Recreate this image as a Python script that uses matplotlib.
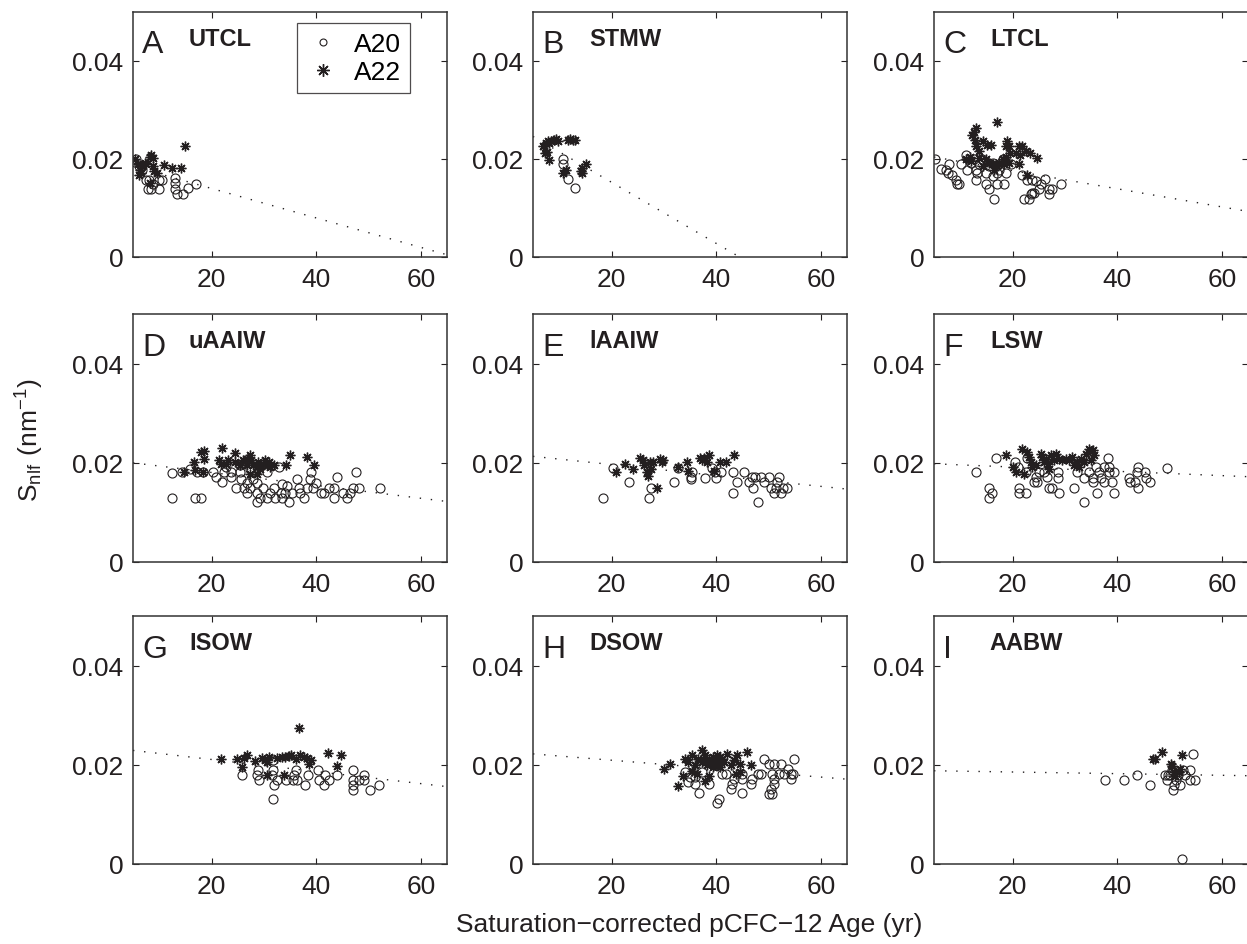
import numpy as np
import matplotlib
matplotlib.use("Agg")
import matplotlib.pyplot as plt
from matplotlib.lines import Line2D

plt.rcParams['font.family'] = ['Liberation Sans', 'DejaVu Sans']
plt.rcParams['mathtext.fontset'] = 'custom'
plt.rcParams['mathtext.rm'] = 'Liberation Sans'

INK = '#231f20'

# panel letters / water mass names
letters = ['A', 'B', 'C', 'D', 'E', 'F', 'G', 'H', 'I']
names = ['UTCL', 'STMW', 'LTCL', 'uAAIW', 'lAAIW', 'LSW', 'ISOW', 'DSOW', 'AABW']

# dotted regression line, value at age 5 and at age 65
fit_at5 = [0.0185, 0.0246, 0.0204, 0.0200, 0.0213, 0.0198, 0.0229, 0.0222, 0.0188]
fit_at65 = [0.00046, -0.0128, 0.0093, 0.0122, 0.0147, 0.0172, 0.0156, 0.0171, 0.0178]

# (age, Snlf) points, A20 = circles, A22 = asterisks
utcl_a20 = [(5.6, .020), (7.5, .0158), (7.8, .0139), (8.4, .0139), (8.1, .0158), (9.9, .0158),
            (10.6, .0158), (9.9, .0139), (13.1, .0162), (13.1, .0152), (13.1, .0139), (13.4, .0128),
            (14.5, .0129), (15.5, .014), (17.0, .015), (8.8, .0148), (6.2, .0185), (6.8, .0178)]
utcl_a22 = [(5.3, .020), (5.9, .0189), (6.3, .0178), (6.6, .0172), (7.2, .0192), (8.2, .0205),
            (8.5, .0209), (8.8, .0202), (8.9, .0185), (9.1, .0175), (9.5, .0172), (10.9, .0187),
            (12.5, .0182), (14.1, .0182), (15.0, .0226), (8.2, .0151), (6.1, .0168), (6.8, .0185),
            (7.5, .0189)]

stmw_a20 = [(10.8, .020), (10.8, .019), (11.6, .0159), (13.1, .014)]
stmw_a22 = [(6.9, .0226), (7.5, .0232), (7.8, .0236), (8.5, .0236), (9.1, .0238), (9.4, .024),
            (9.7, .0236), (8.1, .0232), (7.3, .0212), (7.6, .0215), (8.0, .0197), (12.0, .024),
            (12.6, .0239), (11.7, .0238), (13.0, .0238), (10.7, .0172), (11.3, .0178), (14.1, .0175),
            (14.4, .0182), (15.1, .0189), (14.3, .0172)]

ltcl_a20 = [(5.2, .020), (6.3, .018), (7.2, .0178), (7.9, .019), (7.6, .0171), (8.5, .0168),
            (9.2, .0158), (9.8, .0149), (9.3, .0149), (10.1, .019), (11.1, .0209), (11.4, .0178),
            (12.0, .0192), (13.0, .0158), (13.3, .0172), (13.6, .0189), (14.9, .0148), (15.5, .0138),
            (16.5, .0119), (16.2, .0165), (17.1, .0148), (17.4, .0189), (18.4, .0148), (18.7, .0172),
            (17.1, .0172), (15.5, .0185), (14.2, .0199), (18.1, .0199), (19.7, .019), (21.9, .0168),
            (22.8, .0158), (23.8, .0158), (24.4, .0155), (25.1, .0138), (25.4, .0148), (26.3, .0159),
            (27.0, .0138), (27.6, .0138), (27.0, .0128), (29.2, .015), (22.2, .0119), (23.2, .0119),
            (23.5, .0128), (23.8, .013), (24.1, .0131), (13.0, .0178), (12.7, .0199), (16.2, .0192),
            (17.4, .0178), (14.9, .0172)]
ltcl_a22 = [(13.0, .0263), (12.7, .0256), (12.3, .025), (12.8, .0239), (13.1, .0226), (13.6, .0216),
            (14.4, .0236), (15.2, .0229), (15.8, .0229), (17.0, .0275), (18.7, .0226), (19.0, .0236),
            (19.3, .0226), (19.6, .0212), (18.7, .0205), (18.1, .0199), (20.6, .0212), (21.2, .0226),
            (21.9, .0226), (21.5, .0209), (22.5, .0216), (23.4, .0213), (24.7, .0202), (21.2, .0189),
            (13.6, .0202), (14.9, .0199), (15.5, .0192), (16.2, .0189), (16.8, .019), (17.4, .0192),
            (18.4, .0189), (19.3, .0192), (11.1, .0199), (11.8, .0205), (12.1, .0195), (14.3, .0185),
            (17.1, .0185), (22.8, .0168), (16.5, .0178)]

uaaiw_a20 = [(12.4, .018), (12.4, .0129), (14.4, .0181), (15.8, .0188), (16.9, .0129), (17.9, .0129),
             (17.2, .0181), (18.3, .0182), (20.3, .0181), (20.8, .0171), (22.1, .0161), (22.3, .0181),
             (22.8, .0191), (23.8, .0171), (24.7, .015), (25.4, .0181), (25.7, .0168), (26.3, .015),
             (26.7, .014), (27.3, .015), (28.0, .0168), (28.6, .014), (28.6, .012), (29.3, .013),
             (29.9, .015), (30.6, .013), (31.2, .014), (31.9, .015), (32.2, .013), (33.2, .014),
             (33.5, .013), (34.1, .014), (34.8, .012), (34.5, .0154), (35.4, .014), (36.4, .0168),
             (36.7, .015), (37.0, .014), (37.7, .013), (38.3, .015), (38.8, .0168), (39.0, .0181),
             (39.3, .015), (39.9, .016), (40.9, .014), (41.5, .014), (42.5, .015), (43.5, .013),
             (43.9, .0171), (43.5, .015), (45.1, .014), (45.8, .013), (46.4, .014), (47.1, .015),
             (47.7, .0181), (48.1, .015), (52.2, .015), (32.9, .0191), (30.6, .0181), (27.3, .0188),
             (25.4, .0195), (23.8, .0181), (33.5, .0157), (26.7, .016), (28.6, .016)]
uaaiw_a22 = [(14.7, .0181), (16.6, .0201), (16.9, .0185), (17.9, .0222), (18.6, .0223), (18.6, .0208),
             (18.3, .0181), (22.1, .023), (21.8, .0198), (21.5, .0205), (22.8, .0198), (23.2, .0205),
             (24.5, .022), (24.5, .0201), (25.4, .0195), (26.0, .0205), (26.7, .0208), (27.3, .0215),
             (27.6, .0205), (28.0, .0195), (28.6, .0191), (28.9, .0201), (29.3, .0188), (29.9, .0198),
             (30.2, .0205), (30.6, .0195), (30.9, .0201), (31.2, .0191), (31.9, .0195), (27.3, .0178),
             (28.6, .0178), (35.0, .0216), (34.3, .0195), (38.3, .0211), (39.5, .0195), (26.7, .0195)]

laaiw_a20 = [(18.3, .013), (20.3, .019), (23.3, .0161), (27.2, .013), (27.6, .015), (31.9, .0161),
             (32.8, .019), (35.1, .0171), (35.3, .0181), (35.1, .0168), (37.8, .017), (39.2, .019),
             (39.7, .0181), (40.0, .017), (41.0, .0181), (43.2, .0181), (43.2, .014), (43.9, .0161),
             (45.4, .0181), (46.2, .0161), (46.8, .0171), (47.1, .015), (48.0, .012), (47.5, .0171),
             (48.5, .0171), (49.1, .0161), (50.1, .0171), (50.4, .015), (51.1, .014), (51.4, .015),
             (52.0, .0171), (52.4, .014), (52.7, .015), (53.6, .015), (51.7, .0161)]
laaiw_a22 = [(20.9, .0181), (22.5, .0198), (24.1, .0188), (25.4, .0209), (26.0, .0205), (26.3, .0195),
             (26.7, .0181), (27.0, .0174), (27.6, .0188), (27.9, .0201), (27.3, .0201), (28.6, .015),
             (29.3, .0208), (29.6, .0201), (29.9, .0205), (32.8, .0191), (34.4, .0201), (34.7, .0184),
             (37.0, .0209), (37.6, .0209), (38.3, .0201), (38.7, .0216), (39.5, .0184), (40.8, .0201),
             (41.8, .0201), (43.4, .0216), (37.3, .0205)]

lsw_a20 = [(13.1, .0181), (15.5, .015), (16.1, .014), (15.5, .013), (16.8, .0209), (20.5, .0201),
           (21.0, .0191), (21.3, .015), (21.3, .014), (22.5, .014), (22.5, .0181), (22.8, .0209),
           (24.1, .0161), (24.4, .0171), (24.7, .0161), (25.0, .0181), (26.6, .0171), (26.9, .015),
           (27.5, .015), (28.6, .0181), (28.6, .017), (28.9, .014), (31.8, .015), (32.4, .0181),
           (33.7, .012), (33.7, .017), (34.6, .0181), (35.3, .017), (35.3, .0161), (35.9, .0191),
           (36.2, .014), (36.9, .017), (37.5, .0161), (37.5, .0191), (38.2, .0209), (38.5, .0181),
           (39.1, .0161), (39.4, .0181), (39.4, .014), (38.5, .0191), (42.2, .017), (42.4, .0161),
           (43.4, .0161), (43.7, .0181), (43.9, .015), (44.0, .0191), (45.3, .0181), (45.6, .017),
           (46.2, .0161), (49.6, .019), (26.0, .0181), (36.5, .0181)]
lsw_a22 = [(18.7, .0215), (20.0, .0191), (20.6, .0181), (21.9, .0228), (22.2, .0178), (22.8, .0222),
           (23.2, .0211), (23.5, .0201), (23.8, .0191), (24.4, .0195), (25.4, .0218), (25.7, .0211),
           (26.1, .0201), (26.4, .0208), (26.7, .0198), (27.3, .0215), (28.0, .0205), (28.3, .0218),
           (28.9, .0208), (29.5, .0205), (30.2, .0208), (30.8, .0205), (31.4, .0211), (31.8, .0195),
           (32.4, .0201), (33.0, .0208), (33.7, .0201), (34.0, .0218), (34.6, .0228), (35.3, .0225),
           (35.6, .0215), (35.0, .0205), (27.0, .0188), (32.7, .0191)]

isow_a20 = [(25.9, .018), (28.8, .019), (28.7, .018), (29.0, .017), (31.8, .019), (31.9, .016),
            (31.8, .0131), (32.5, .017), (34.2, .017), (35.5, .017), (36.1, .019), (36.4, .017),
            (37.9, .016), (38.4, .018), (40.3, .019), (40.6, .017), (41.5, .016), (41.6, .018),
            (42.5, .017), (43.9, .018), (47.1, .019), (47.1, .017), (47.1, .016), (47.1, .015),
            (48.1, .017), (49.1, .018), (49.1, .017), (50.2, .015), (52.1, .016), (31.6, .018),
            (35.8, .018), (31.8, .021)]
isow_a22 = [(21.9, .0211), (24.8, .0212), (25.8, .0195), (26.2, .0213), (26.7, .0219), (28.4, .0208),
            (29.6, .0213), (30.3, .021), (30.6, .0205), (30.9, .0216), (30.6, .018), (33.5, .0215),
            (34.1, .0216), (34.8, .0218), (35.1, .0219), (36.7, .0275), (36.1, .0211), (36.9, .0219),
            (37.7, .0216), (38.3, .0213), (38.7, .0202), (39.0, .0209), (33.8, .018), (42.3, .0224),
            (44.0, .0198), (44.7, .0219), (32.6, .0213)]

dsow_a20 = [(34.1, .0185), (34.7, .0165), (35.0, .0175), (36.0, .0162), (36.8, .0143), (37.3, .0185),
            (38.6, .0162), (40.5, .0131), (40.2, .0123), (41.8, .0182), (42.8, .0152), (43.1, .0162),
            (43.4, .0172), (45.0, .0143), (45.0, .0172), (46.6, .0162), (46.9, .0172), (47.9, .0182),
            (48.5, .0182), (49.2, .0212), (50.1, .0202), (51.1, .0202), (52.4, .0202), (50.7, .0182),
            (51.1, .0172), (51.1, .0162), (50.4, .0152), (50.1, .0141), (50.7, .0141), (52.0, .0182),
            (53.0, .0182), (53.8, .0192), (54.3, .0182), (54.9, .0212), (54.3, .0172), (54.6, .0182),
            (45.0, .0182), (41.2, .0182), (36.0, .0175)]
dsow_a22 = [(30.1, .0191), (31.2, .0202), (32.8, .0158), (33.7, .0178), (34.1, .0212), (34.7, .0205),
            (35.3, .0219), (36.0, .020), (36.6, .0212), (37.3, .0229), (37.6, .0209), (37.9, .0219),
            (38.3, .020), (38.6, .0212), (38.9, .0205), (39.3, .0215), (39.6, .020), (39.9, .0209),
            (40.2, .0219), (40.5, .0202), (40.8, .0195), (41.2, .0212), (41.5, .0205), (42.1, .0222),
            (42.8, .020), (43.4, .0209), (44.0, .0219), (44.6, .0202), (45.9, .0226), (46.6, .020),
            (43.7, .0182), (37.9, .0168), (38.6, .0178), (35.3, .0188), (36.3, .0182), (44.6, .0185),
            (37.3, .0205), (39.3, .0195), (40.8, .0215)]

aabw_a20 = [(37.7, .017), (41.3, .017), (43.8, .018), (46.3, .016), (49.1, .018), (49.5, .017),
            (50.1, .018), (50.7, .015), (50.9, .016), (51.3, .017), (51.7, .018), (52.0, .016),
            (52.4, .0011), (52.6, .019), (52.9, .018), (53.9, .019), (53.9, .017), (54.5, .0221),
            (54.8, .017), (50.4, .019), (49.8, .018)]
aabw_a22 = [(46.8, .0211), (47.3, .0211), (48.6, .0226), (50.3, .0202), (50.5, .0198), (50.8, .0185),
            (51.8, .0185), (52.4, .0219), (52.1, .0192), (51.1, .0178)]

a20_sets = [utcl_a20, stmw_a20, ltcl_a20, uaaiw_a20, laaiw_a20, lsw_a20, isow_a20, dsow_a20, aabw_a20]
a22_sets = [utcl_a22, stmw_a22, ltcl_a22, uaaiw_a22, laaiw_a22, lsw_a22, isow_a22, dsow_a22, aabw_a22]

W, H = 1247, 945
fig = plt.figure(figsize=(W/100, H/100), dpi=100)

col_left = [133, 533, 934]
row_top = [13, 315, 617]
row_bot = [258, 563, 865]
ax_w = 314

asterisk = (8, 2, 0)
age_fit = np.array([5, 65])

for k in range(9):
    r, c = divmod(k, 3)
    ax = fig.add_axes([col_left[c]/W, 1 - row_bot[r]/H, ax_w/W, (row_bot[r]-row_top[r])/H])

    ax.plot(age_fit, [fit_at5[k], fit_at65[k]], ls=(0, (1, 7)), lw=1.0, color=INK)

    p20 = np.array(a20_sets[k]).T
    p22 = np.array(a22_sets[k]).T
    ax.plot(p20[0], p20[1], ls='none', marker='o', ms=6.5, mfc='none', mec=INK, mew=0.8)
    ax.plot(p22[0], p22[1], ls='none', marker=asterisk, ms=7, mec=INK, mew=1.0)

    ax.set_xlim(5, 65)
    ax.set_ylim(0, 0.05)
    ax.set_xticks([20, 40, 60])
    ax.set_yticks([0, 0.02, 0.04])
    ax.set_yticklabels(['0', '0.02', '0.04'])
    ax.tick_params(direction='in', top=True, right=True, length=4, width=0.8,
                   labelsize=19, colors=INK, pad=7)
    for s in ax.spines.values():
        s.set_linewidth(1.1)
        s.set_color('#333333')

    ax.text(0.03, 0.835, letters[k], transform=ax.transAxes, fontsize=23, color=INK)
    ax.text(0.178, 0.865, names[k], transform=ax.transAxes, fontsize=17,
            fontweight='bold', color=INK)

    if k == 0:
        handles = [Line2D([], [], ls='none', marker='o', ms=5, mfc='none', mec=INK, mew=0.8),
                   Line2D([], [], ls='none', marker=asterisk, ms=9, mec=INK, mew=1.0)]
        leg = ax.legend(handles, ['A20', 'A22'], loc='upper right', bbox_to_anchor=(0.882, 0.955),
                        fontsize=19, frameon=True, fancybox=False, borderpad=0.35,
                        handlelength=1.3, handletextpad=0.5, labelspacing=0.15, borderaxespad=0)
        leg.get_frame().set_edgecolor(INK)
        leg.get_frame().set_linewidth(0.9)

fig.text(0.024, 0.534, r'$\mathregular{S_{nlf}\ (nm^{-1})}$', rotation=90,
         ha='center', va='center', fontsize=19, color=INK)
fig.text(0.553, 0.021, 'Saturation\u2212corrected pCFC\u221212 Age (yr)',
         ha='center', va='center', fontsize=19, color=INK)

fig.savefig('out.png', dpi=100)
